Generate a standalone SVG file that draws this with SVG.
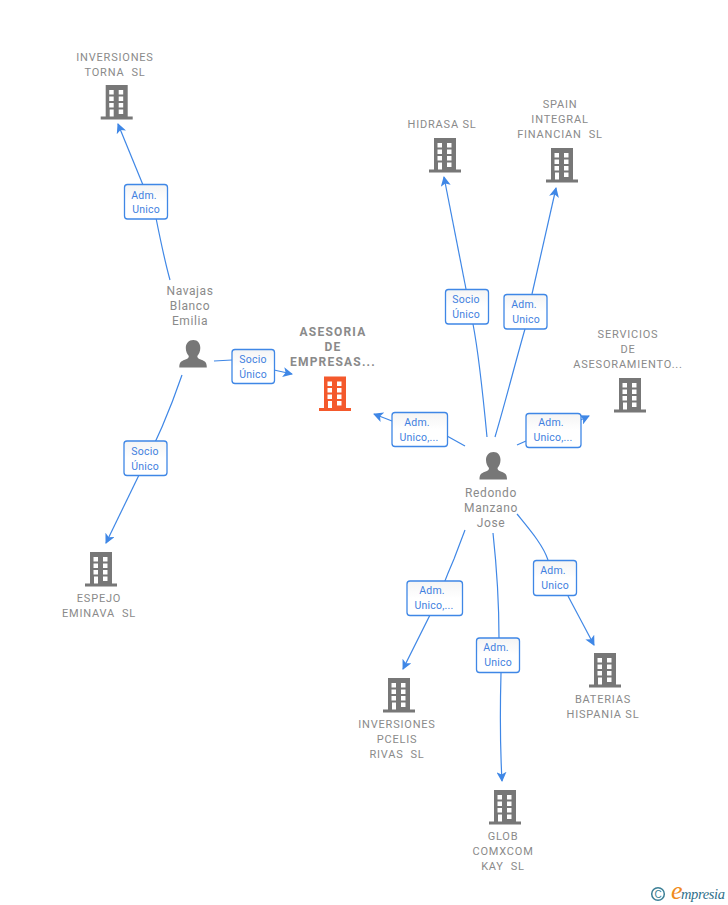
<svg xmlns="http://www.w3.org/2000/svg" width="728" height="905" viewBox="0 0 728 905">
<style>
text{font-family:Roboto,"Liberation Sans",sans-serif;white-space:pre}
.n{font-size:11px;fill:#8a8a8a;text-anchor:middle;letter-spacing:.8px}
.m{font-size:12px;font-weight:700;fill:#8a8a8a;text-anchor:middle;letter-spacing:1.2px}
.p{font-size:12px;fill:#8a8a8a;text-anchor:middle;letter-spacing:.6px}
.l{font-size:10.500px;fill:#3f7fe0;text-anchor:middle;letter-spacing:.2px}
.b{fill:url(#g);stroke:#3f87e6;stroke-width:1.3}
.c{fill:none;stroke:#3f87e6;stroke-width:1.2;marker-end:url(#a)}
.d{fill:none;stroke:#3f87e6;stroke-width:1.2}
</style>
<defs>
<linearGradient id="g" x1="0" y1="0" x2="0" y2="1"><stop offset="0" stop-color="#f4f4f4"/><stop offset=".5" stop-color="#fff"/></linearGradient>
<marker id="a" viewBox="0 0 10 10" refX="9" refY="5" markerWidth="10" markerHeight="10" markerUnits="userSpaceOnUse" orient="auto"><path d="M0 0L10 5L0 10L2.500 5Z" fill="#3f87e6"/></marker>
<g id="bld"><path fill-rule="evenodd" d="M5 0H27V31.500H32V34.500H0V31.500H5ZM8.500 5V9.500H13V5ZM18 5V9.500H22.500V5ZM8.500 11.500V16H13V11.500ZM18 11.500V16H22.500V11.500ZM8.500 18V22.500H13V18ZM18 18V22.500H22.500V18ZM9 24.500V31.500H13V24.500ZM18 24.500V29H22.500V24.500Z"/></g>
<g id="per"><path d="M14 0C18.500 0 21 3.500 21 8C21 11.500 19.500 14.500 18 16C18 18 19 18.500 22 19.700C26 21.200 27.500 22.500 27.500 27.500H0C0 22.500 1.500 21.200 5.500 19.700C8.500 18.500 9.500 18 9.500 16C8 14.500 6.500 11.500 6.500 8C6.500 3.500 9.500 0 14 0Z"/></g>
</defs>
<g id="connectors">
<path class="d" d="M170 280C165 262 160 238 156 218"/><path class="c" d="M143 185L118 124"/>
<path class="d" d="M182 375C170 410 155 445 139 475"/><path class="c" d="M139 475L106 543"/>
<path class="d" d="M214 361L232 360"/><path class="c" d="M274 370L292 374"/>
<path class="d" d="M465 446L447 436"/><path class="c" d="M392 421L374 414"/>
<path class="d" d="M487 437C483 395 478 350 473 324"/><path class="c" d="M466 289L444 177"/>
<path class="d" d="M495 437C506 400 516 360 525 329"/><path class="c" d="M532 294L556 188"/>
<path class="d" d="M517 445L526 441"/><path class="c" d="M570 425L589 416"/>
<path class="d" d="M465 530L454 559C447 575 440 592 433 615"/><path class="c" d="M430 615L403 669"/>
<path class="d" d="M493 533C497 570 499 610 499 638"/><path class="c" d="M501 673C500 710 500 745 502 781"/>
<path class="d" d="M517 514C530 530 543 545 548 560"/><path class="c" d="M568 596L594 645"/>
</g>
<g id="n-main"><text class="m" x="333" y="336">ASESORIA</text><text class="m" x="333" y="351">DE</text><text class="m" x="333" y="366">EMPRESAS...</text><use href="#bld" x="319" y="376.500" fill="#f4592c"/></g>
<g id="n-torna"><text class="n" x="115" y="61">INVERSIONES</text><text class="n" x="115" y="76">TORNA  SL</text><use href="#bld" x="100.700" y="85" fill="#777"/></g>
<g id="n-hidrasa"><text class="n" x="442" y="128">HIDRASA SL</text><use href="#bld" x="429" y="138" fill="#777"/></g>
<g id="n-spain"><text class="n" x="560" y="108">SPAIN</text><text class="n" x="560" y="123">INTEGRAL</text><text class="n" x="560" y="138">FINANCIAN  SL</text><use href="#bld" x="546" y="148" fill="#777"/></g>
<g id="n-serv"><text class="n" x="628" y="338">SERVICIOS</text><text class="n" x="628" y="353">DE</text><text class="n" x="628" y="368">ASESORAMIENTO...</text><use href="#bld" x="614" y="378" fill="#777"/></g>
<g id="n-espejo"><use href="#bld" x="85" y="552" fill="#777"/><text class="n" x="99" y="602">ESPEJO</text><text class="n" x="99" y="617">EMINAVA  SL</text></g>
<g id="n-pcelis"><use href="#bld" x="383" y="678" fill="#777"/><text class="n" x="397" y="728">INVERSIONES</text><text class="n" x="397" y="743">PCELIS</text><text class="n" x="397" y="758">RIVAS  SL</text></g>
<g id="n-glob"><use href="#bld" x="489" y="790" fill="#777"/><text class="n" x="503" y="840">GLOB</text><text class="n" x="503" y="855">COMXCOM</text><text class="n" x="503" y="870">KAY  SL</text></g>
<g id="n-baterias"><use href="#bld" x="589" y="653" fill="#777"/><text class="n" x="603" y="703">BATERIAS</text><text class="n" x="603" y="718">HISPANIA SL</text></g>
<g id="n-navajas"><text class="p" x="190" y="295">Navajas</text><text class="p" x="190" y="310">Blanco</text><text class="p" x="190" y="325">Emilia</text><use href="#per" x="179.300" y="340" fill="#777"/></g>
<g id="n-redondo"><use href="#per" x="479.500" y="452" fill="#777"/><text class="p" x="491" y="497">Redondo</text><text class="p" x="491" y="512">Manzano</text><text class="p" x="491" y="527">Jose</text></g>
<g id="labels">
<g><rect class="b" x="124.500" y="184.500" width="43" height="34.500" rx="3"/><text class="l" x="144" y="199">Adm.</text><text class="l" x="146" y="213">Unico</text></g>
<g><rect class="b" x="124" y="441" width="43" height="34.500" rx="3"/><text class="l" x="145" y="455">Socio</text><text class="l" x="145" y="470">Único</text></g>
<g><rect class="b" x="232" y="349.500" width="42.500" height="34" rx="3"/><text class="l" x="253" y="363">Socio</text><text class="l" x="253" y="378">Único</text></g>
<g><rect class="b" x="392" y="412.500" width="55.500" height="34" rx="3"/><text class="l" x="417" y="426">Adm.</text><text class="l" x="419" y="441">Unico,...</text></g>
<g><rect class="b" x="526" y="413.500" width="55" height="34" rx="3"/><text class="l" x="551" y="426">Adm.</text><text class="l" x="553" y="441">Unico,...</text></g>
<g><rect class="b" x="445.500" y="289.500" width="43" height="34.500" rx="3"/><text class="l" x="466" y="303">Socio</text><text class="l" x="466" y="318">Único</text></g>
<g><rect class="b" x="504" y="294.500" width="43" height="34.500" rx="3"/><text class="l" x="524" y="308">Adm.</text><text class="l" x="526" y="323">Unico</text></g>
<g><rect class="b" x="407" y="581" width="55.500" height="34.500" rx="3"/><text class="l" x="432" y="594">Adm.</text><text class="l" x="434" y="609">Unico,...</text></g>
<g><rect class="b" x="476.500" y="638" width="43" height="34.500" rx="3"/><text class="l" x="496" y="651">Adm.</text><text class="l" x="498" y="666">Unico</text></g>
<g><rect class="b" x="533.500" y="560.500" width="43" height="35" rx="3"/><text class="l" x="553" y="574">Adm.</text><text class="l" x="555" y="589">Unico</text></g>
</g>
<g id="logo"><circle cx="658" cy="894" r="6.300" fill="none" stroke="#3b7f96" stroke-width="1.500"/><text x="658" y="897.500" font-size="10" fill="#3b7f96" text-anchor="middle" style="font-family:'Liberation Sans',sans-serif">C</text><text x="671" y="899" font-size="26" fill="#f08a1d" style="font-family:'Liberation Serif',serif;font-style:italic">e</text><text x="681" y="899" font-size="14.500" textLength="44" fill="#2f6f8a" style="font-family:'Liberation Serif',serif;font-style:italic">mpresia</text></g>
</svg>
